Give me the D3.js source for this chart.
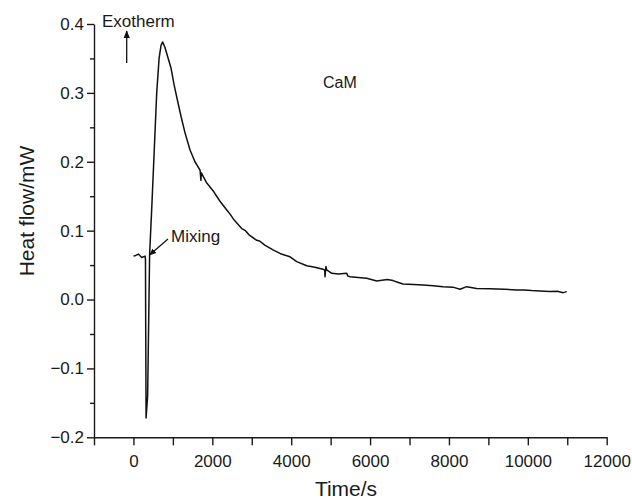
<!DOCTYPE html>
<html>
<head>
<meta charset="utf-8">
<script src="https://cdn.jsdelivr.net/npm/d3@7"></script>
<style>
  body { margin: 0; background: #fff; }
  svg text { font-family: "Liberation Sans", Arial, Helvetica, sans-serif; fill: #1a1a1a; }
  .axis path, .axis line { stroke: #1a1a1a; stroke-width: 1.4; }
</style>
</head>
<body>
<div id="chart"></div>
<script>
// time (s) and heat flow (mW)
const timeS = [0, 60, 125, 210, 295, 305, 312, 320, 360, 410, 470, 530, 590, 650, 700, 743,
  800, 870, 953, 1030, 1113, 1210, 1308, 1435, 1560, 1689, 1712, 1722, 1850, 2018, 2190,
  2366, 2450, 2560, 2746, 2840, 2930, 3126, 3200, 3330, 3540, 3750, 3971, 4140, 4394, 4600,
  4807, 4850, 4858, 4880, 4900, 5028, 5200, 5408, 5440, 5492, 5700, 5915, 6169, 6300, 6440,
  6582, 6700, 6836, 7100, 7343, 7600, 7850, 8100, 8281, 8451, 8700, 9042, 9400, 9719, 9900,
  10100, 10300, 10564, 10750, 10900, 10986];
const heatFlow = [0.063, 0.064, 0.066, 0.061, 0.063, 0.058, -0.05, -0.172, -0.14, 0.065, 0.14, 0.22, 0.30, 0.35, 0.369, 0.374,
  0.366, 0.352, 0.336, 0.312, 0.290, 0.265, 0.242, 0.217, 0.200, 0.188, 0.173, 0.184, 0.170, 0.158, 0.143,
  0.130, 0.124, 0.115, 0.103, 0.100, 0.094, 0.086, 0.085, 0.079, 0.072, 0.066, 0.062, 0.055, 0.049, 0.047,
  0.044, 0.043, 0.033, 0.048, 0.043, 0.038, 0.037, 0.038, 0.034, 0.033, 0.032, 0.031, 0.027, 0.028, 0.029,
  0.0275, 0.025, 0.0226, 0.022, 0.021, 0.020, 0.0187, 0.018, 0.015, 0.0187, 0.016, 0.0158, 0.015, 0.0139, 0.014,
  0.013, 0.0125, 0.0115, 0.012, 0.010, 0.0115];

const xMajor = [0, 2000, 4000, 6000, 8000, 10000, 12000];
const xMinor = [-1000, 1000, 3000, 5000, 7000, 9000, 11000];
const yMajor = [-0.2, -0.1, 0.0, 0.1, 0.2, 0.3, 0.4];
const yMinor = [-0.15, -0.05, 0.05, 0.15, 0.25, 0.35];

const W = 632, H = 502;

const svg = d3.select("#chart").append("svg")
    .attr("width", W)
    .attr("height", H);

const x = d3.scaleLinear().domain([-1000, 12000]).range([94, 606.7]);
const y = d3.scaleLinear().domain([-0.2, 0.4]).range([437.3, 24]);

// x axis
svg.append("g")
    .attr("class", "axis")
    .attr("transform", `translate(0,${y(-0.2)})`)
    .call(d3.axisBottom(x).tickValues(xMajor).tickSize(8).tickPadding(10).tickSizeOuter(0)
        .tickFormat(d3.format("d")))
    .selectAll("text")
    .style("font-size", "17px");

svg.append("g")
    .attr("class", "axis")
    .attr("transform", `translate(0,${y(-0.2)})`)
    .call(d3.axisBottom(x).tickValues(xMinor).tickSize(8).tickSizeOuter(0).tickFormat(""))
    .select(".domain").remove();

// y axis
svg.append("g")
    .attr("class", "axis")
    .attr("transform", `translate(${x(-1000)},0)`)
    .call(d3.axisLeft(y).tickValues(yMajor).tickSize(7).tickPadding(3).tickSizeOuter(0)
        .tickFormat(d3.format(".1f")))
    .selectAll("text")
    .style("font-size", "17px");

svg.append("g")
    .attr("class", "axis")
    .attr("transform", `translate(${x(-1000)},0)`)
    .call(d3.axisLeft(y).tickValues(yMinor).tickSize(4).tickSizeOuter(0).tickFormat(""))
    .select(".domain").remove();

// axis titles
svg.append("text")
    .attr("x", 346)
    .attr("y", 496)
    .style("text-anchor", "middle")
    .style("font-size", "21px")
    .text("Time/s");

svg.append("text")
    .attr("transform", "translate(34,211) rotate(-90)")
    .style("text-anchor", "middle")
    .style("font-size", "21px")
    .text("Heat flow/mW");

// trace
const line = d3.line()
    .x((d, i) => x(timeS[i]))
    .y(d => y(d));

svg.append("path")
    .datum(heatFlow)
    .attr("d", line)
    .style("fill", "none")
    .style("stroke", "#111")
    .style("stroke-width", 1.5)
    .style("stroke-linejoin", "round");

// arrow marker
svg.append("defs").append("marker")
    .attr("id", "head")
    .attr("viewBox", "0 0 10 10")
    .attr("refX", 9)
    .attr("refY", 5)
    .attr("markerWidth", 6)
    .attr("markerHeight", 6)
    .attr("orient", "auto")
    .append("path")
    .attr("d", "M0,1 L10,5 L0,9 Z")
    .style("fill", "#111");

// annotations
svg.append("text")
    .attr("x", 102)
    .attr("y", 27)
    .style("font-size", "17px")
    .text("Exotherm");

svg.append("line")
    .attr("x1", 126.7).attr("y1", 63)
    .attr("x2", 126.7).attr("y2", 31)
    .style("stroke", "#111")
    .style("stroke-width", 1.3)
    .attr("marker-end", "url(#head)");

svg.append("text")
    .attr("x", 323)
    .attr("y", 88)
    .style("font-size", "16px")
    .text("CaM");

svg.append("text")
    .attr("x", 171)
    .attr("y", 242)
    .style("font-size", "17px")
    .text("Mixing");

svg.append("line")
    .attr("x1", 168).attr("y1", 239)
    .attr("x2", 149.5).attr("y2", 255)
    .style("stroke", "#111")
    .style("stroke-width", 1.2)
    .attr("marker-end", "url(#head)");
</script>
</body>
</html>
